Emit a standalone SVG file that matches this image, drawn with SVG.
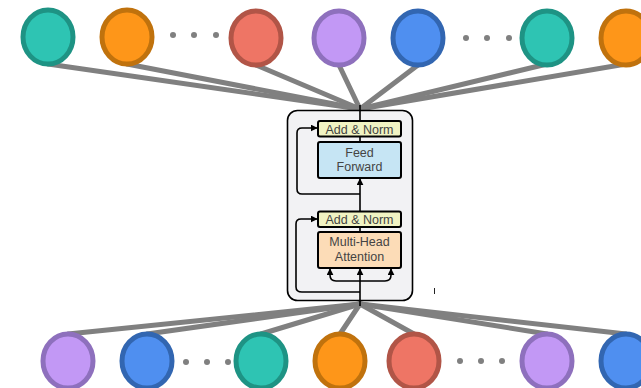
<svg xmlns="http://www.w3.org/2000/svg" width="641" height="388" viewBox="0 0 641 388">
  <defs>
    <marker id="ah" viewBox="0 0 10 10" refX="9" refY="5" markerWidth="7" markerHeight="7" markerUnits="userSpaceOnUse" orient="auto">
      <path d="M0,0 L10,5 L0,10 z" fill="#000"/>
    </marker>
  </defs>
  <style>
    .link { stroke: #808080; stroke-width: 5; fill: none; stroke-linecap: round; }
    .dot { fill: #808080; }
    .node { stroke-width: 5; }
    .teal { fill: #2ec4b3; stroke: #1e9384; }
    .orange { fill: #fe9619; stroke: #c0720d; }
    .red { fill: #ee7565; stroke: #b15547; }
    .purple { fill: #c298f5; stroke: #8e70bd; }
    .blue { fill: #4f8ff0; stroke: #3266b1; }
    .wire { stroke: #000; stroke-width: 1.6; fill: none; }
    .box { stroke: #000; stroke-width: 2; }
    .lbl { font-family: "Liberation Sans", Arial, sans-serif; font-size: 12.5px; fill: #444; text-anchor: middle; }
  </style>

  <rect width="641" height="388" fill="#fff"/>

  <!-- connectors from tokens to the layer -->
  <g id="connectors">
    <line class="link" x1="48" y1="64" x2="360" y2="109"/>
    <line class="link" x1="127" y1="64" x2="360" y2="109"/>
    <line class="link" x1="256" y1="65" x2="360" y2="109"/>
    <line class="link" x1="339" y1="65" x2="360" y2="109"/>
    <line class="link" x1="418" y1="65" x2="360" y2="109"/>
    <line class="link" x1="547" y1="64" x2="360" y2="109"/>
    <line class="link" x1="626" y1="64" x2="360" y2="109"/>

    <line class="link" x1="68" y1="334" x2="360" y2="304"/>
    <line class="link" x1="147" y1="334" x2="360" y2="304"/>
    <line class="link" x1="261" y1="334" x2="360" y2="304"/>
    <line class="link" x1="340" y1="334" x2="360" y2="304"/>
    <line class="link" x1="414" y1="334" x2="360" y2="304"/>
    <line class="link" x1="547" y1="334" x2="360" y2="304"/>
    <line class="link" x1="626" y1="334" x2="360" y2="304"/>
  </g>

  <!-- output tokens -->
  <g id="out1"><ellipse class="node teal" cx="48" cy="37" rx="25" ry="27"/></g>
  <g id="out2"><ellipse class="node orange" cx="127" cy="37" rx="25" ry="27"/></g>
  <g id="out-dots"><circle class="dot" cx="173" cy="35" r="3"/><circle class="dot" cx="194" cy="35" r="3"/><circle class="dot" cx="216" cy="35" r="3"/></g>
  <g id="out3"><ellipse class="node red" cx="256" cy="38" rx="25" ry="27"/></g>
  <g id="out4"><ellipse class="node purple" cx="339" cy="38" rx="25" ry="27"/></g>
  <g id="out5"><ellipse class="node blue" cx="418" cy="38" rx="25" ry="27"/></g>
  <g id="out-dots2"><circle class="dot" cx="466" cy="38" r="3"/><circle class="dot" cx="487" cy="38" r="3"/><circle class="dot" cx="509" cy="38" r="3"/></g>
  <g id="out6"><ellipse class="node teal" cx="547" cy="38" rx="25" ry="27"/></g>
  <g id="out7"><ellipse class="node orange" cx="626" cy="38" rx="25" ry="27"/></g>

  <!-- input tokens -->
  <g id="in1"><ellipse class="node purple" cx="68" cy="361" rx="25" ry="27"/></g>
  <g id="in2"><ellipse class="node blue" cx="147" cy="361" rx="25" ry="27"/></g>
  <g id="in-dots"><circle class="dot" cx="186" cy="362" r="3"/><circle class="dot" cx="207" cy="362" r="3"/><circle class="dot" cx="228" cy="362" r="3"/></g>
  <g id="in3"><ellipse class="node teal" cx="261" cy="361" rx="25" ry="27"/></g>
  <g id="in4"><ellipse class="node orange" cx="340" cy="361" rx="25" ry="27"/></g>
  <g id="in5"><ellipse class="node red" cx="414" cy="361" rx="25" ry="27"/></g>
  <g id="in-dots2"><circle class="dot" cx="460" cy="361" r="3"/><circle class="dot" cx="481" cy="361" r="3"/><circle class="dot" cx="502" cy="361" r="3"/></g>
  <g id="in6"><ellipse class="node purple" cx="547" cy="361" rx="25" ry="27"/></g>
  <g id="in7"><ellipse class="node blue" cx="626" cy="361" rx="25" ry="27"/></g>

  <!-- transformer layer -->
  <g id="layer">
    <rect x="287.5" y="110.5" width="125" height="190" rx="10" fill="#f2f2f4" stroke="#000" stroke-width="1.6"/>

    <!-- main data path and residual connections -->
    <line class="wire" x1="360" y1="105" x2="360" y2="120"/>
    <line class="wire" x1="360" y1="306" x2="360" y2="269" marker-end="url(#ah)"/>
    <line class="wire" x1="360" y1="227" x2="360" y2="179" marker-end="url(#ah)"/>
    <line class="wire" x1="360" y1="137" x2="360" y2="142"/>
    <line class="wire" x1="360" y1="268" x2="360" y2="211"/>
    <path class="wire" d="M360,194 H302 Q297,194 297,189 V133 Q297,128 302,128 H317" marker-end="url(#ah)"/>
    <path class="wire" d="M360,292 H302 Q296,292 296,287 V224 Q296,219 301,219 H317" marker-end="url(#ah)"/>
    <path class="wire" d="M360,281 H336 Q330,281 330,275 V269" marker-end="url(#ah)"/>
    <path class="wire" d="M360,281 H385 Q391,281 391,275 V269" marker-end="url(#ah)"/>

    <g id="addnorm2">
      <rect class="box" x="318" y="121" width="83" height="15.5" rx="2" fill="#f1f3c3"/>
      <text class="lbl" x="359.5" y="133.5">Add &amp; Norm</text>
    </g>
    <g id="ffn">
      <rect class="box" x="318" y="142" width="83" height="36" rx="2" fill="#c6e5f4"/>
      <text class="lbl" x="359.5" y="156.5">Feed</text>
      <text class="lbl" x="359.5" y="171">Forward</text>
    </g>
    <g id="addnorm1">
      <rect class="box" x="318" y="211.5" width="83" height="15.5" rx="2" fill="#f1f3c3"/>
      <text class="lbl" x="359.5" y="224">Add &amp; Norm</text>
    </g>
    <g id="mha">
      <rect class="box" x="318" y="232" width="83" height="36" rx="2" fill="#fcdcb7"/>
      <text class="lbl" x="359.5" y="246">Multi-Head</text>
      <text class="lbl" x="359.5" y="260.5">Attention</text>
    </g>
  </g>

  <line x1="434.5" y1="288" x2="434.5" y2="294" stroke="#222" stroke-width="1"/>
</svg>
